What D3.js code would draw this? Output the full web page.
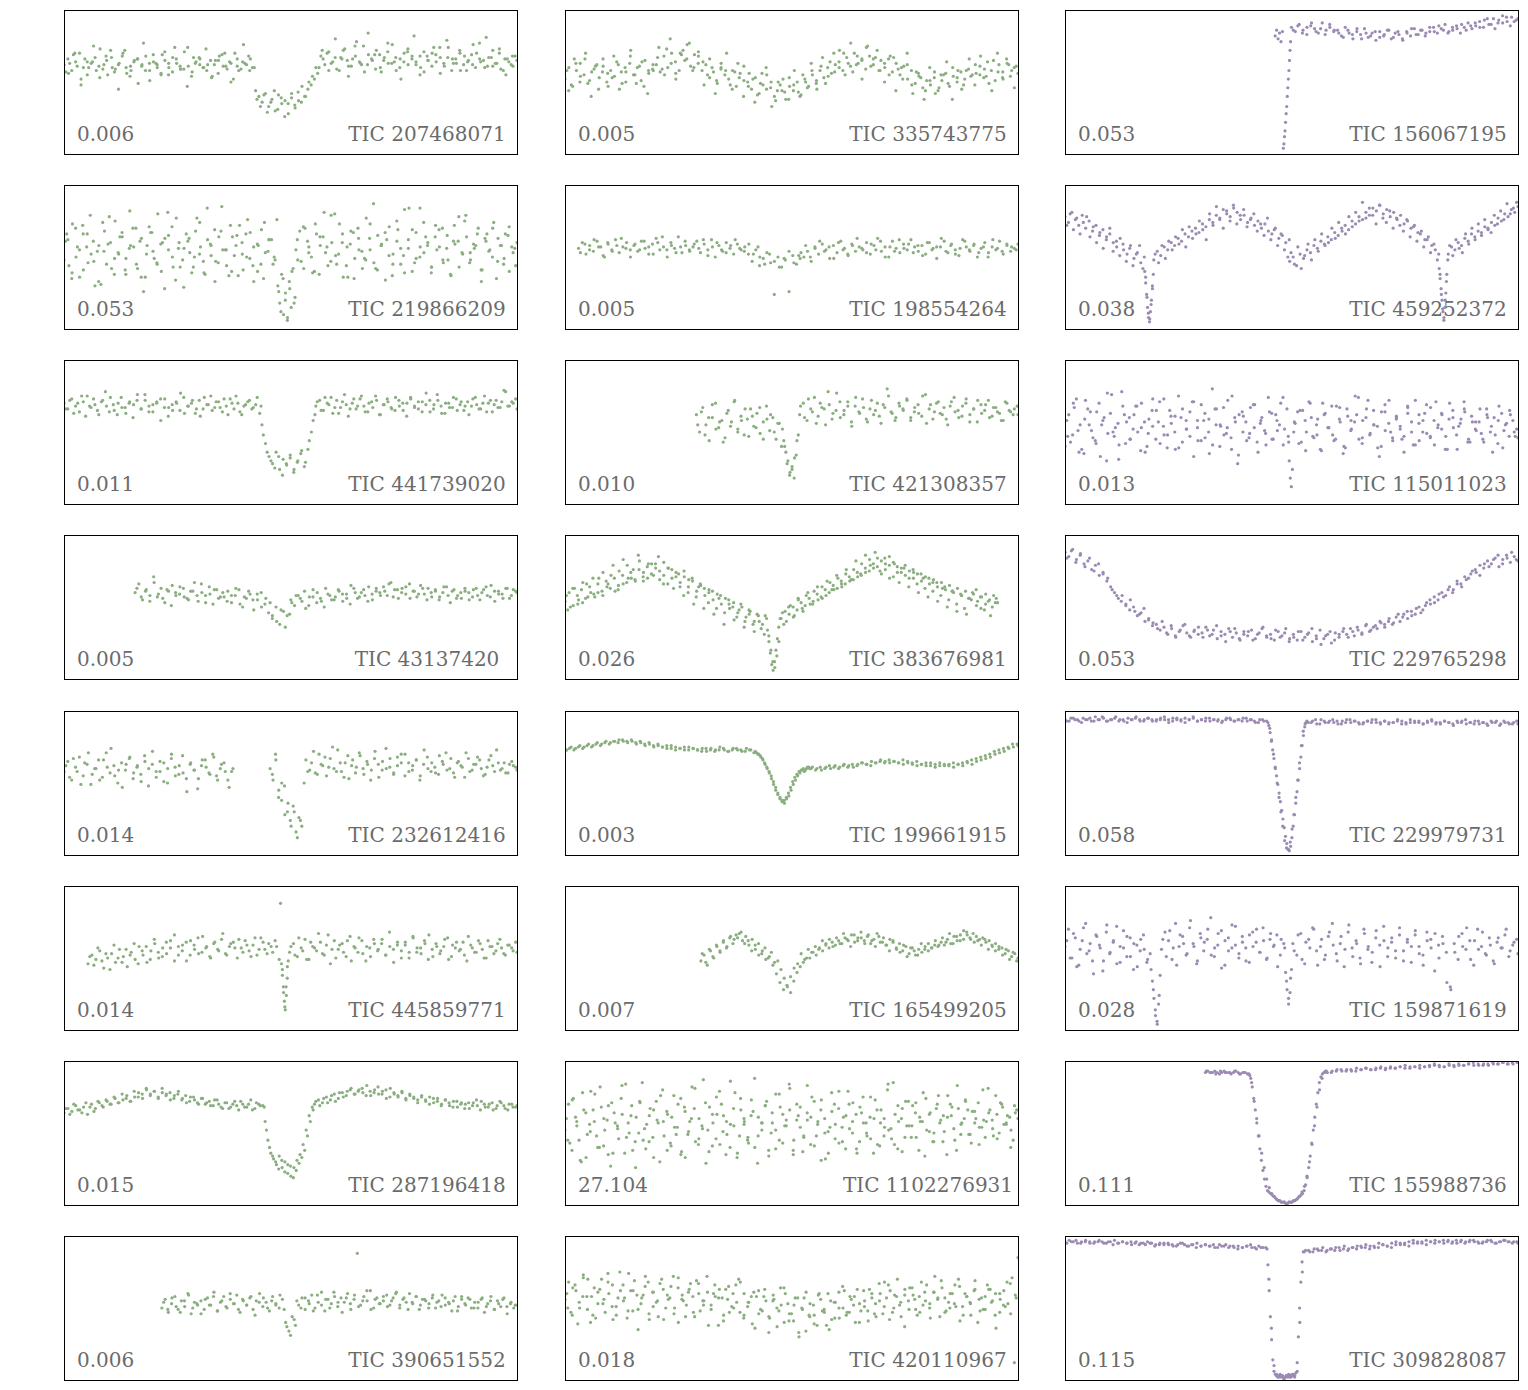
<!DOCTYPE html>
<html>
<head>
<meta charset="utf-8">
<script src="https://cdn.jsdelivr.net/npm/d3@7"></script>
<style>
  html, body { margin: 0; padding: 0; background: #fff; }
  svg { display: block; }
</style>
</head>
<body>
<div id="chart"></div>
<script>
// panel labels, row by row (3 per row)
var ticIds = [
  "TIC 207468071", "TIC 335743775", "TIC 156067195",
  "TIC 219866209", "TIC 198554264", "TIC 459252372",
  "TIC 441739020", "TIC 421308357", "TIC 115011023",
  "TIC 43137420",  "TIC 383676981", "TIC 229765298",
  "TIC 232612416", "TIC 199661915", "TIC 229979731",
  "TIC 445859771", "TIC 165499205", "TIC 159871619",
  "TIC 287196418", "TIC 1102276931", "TIC 155988736",
  "TIC 390651552", "TIC 420110967", "TIC 309828087"
];
var depthLabels = [
  "0.006", "0.005", "0.053",
  "0.053", "0.005", "0.038",
  "0.011", "0.010", "0.013",
  "0.005", "0.026", "0.053",
  "0.014", "0.003", "0.058",
  "0.014", "0.007", "0.028",
  "0.015", "27.104", "0.111",
  "0.006", "0.018", "0.115"
];
// 0 = green group, 1 = purple group
var panelGroup = [
  0, 0, 1,
  0, 0, 1,
  0, 0, 1,
  0, 0, 1,
  0, 0, 1,
  0, 0, 1,
  0, 0, 1,
  0, 0, 1
];

// light curves: segments of [tStart, tEnd, normalised flux samples (0..100)]
var lc207468071 = [
  [0, 42, [62,66,58,64,70,60,55,63,67,61,59,65,72,57,62,68,60,54,64,66,61,58,63,69,62,56,65,60,67,63,59,71,61,57,64,66,60,62,53,65,68,61,59,63,70,58,64,62,66,60]],
  [42.3, 56, [44,40,36,42,33,38,30,41,35,37,28,39,34,43,36,40,45,48,52,56]],
  [56.3, 100, [60,66,70,63,67,58,72,65,61,68,64,75,62,66,59,69,65,71,63,67,60,64,73,66,62,68,57,65,70,64,67,61,74,66,63,58,68,65,62,70,64,60,67,72,63,59,66,64,61,65]],
  [0.4, 41.6, [57,63,69,61,52,66,60,64,58,73,62,55,67,59,63,70,56,61,65,49,62,68,58,64,60,55,71,63,57,66,61,59,74,54,63,67,60,58,65,62,56,69,61,64,52,66,59,63,68,60]],
  [42.6, 55.6, [38,33,41,29,36,44,31,39,26,35,42,32,37,47,40,50,54,60]],
  [56.7, 99.6, [68,62,71,64,59,67,73,61,66,78,63,57,69,65,72,60,67,63,76,58,66,70,62,68,64,55,71,65,61,69,74,63,67,58,66,72,62,64,69,60,77,65,61,67,63,70,58,66,62,68]],
  [1, 41, [56,70,48,64,75,53,68,60,45,72,58,66,77,51,63,69,55,74,59,47,67,62,73,54,65,70,50,61,76,58]],
  [57, 99, [72,58,80,66,54,75,62,84,69,57,77,64,52,71,82,60,68,74,56,79,63,70,58,76,66,81,61,73,55,68]]
];
var lc335743775 = [
  [0, 100, [52,60,47,58,63,55,49,57,61,53,66,50,
            58,54,62,49,57,63,55,60,51,65,56,59,
            62,57,68,60,70,64,58,72,66,61,69,63,
            58,62,53,57,49,60,55,52,58,47,56,51,
            50,45,53,42,48,55,46,40,50,44,38,47,
            44,50,41,52,47,55,49,58,53,60,56,62,
            64,58,67,61,70,63,66,59,68,62,72,65,
            60,66,57,63,55,61,52,58,49,54,46,51,
            48,53,44,51,56,47,54,50,57,52,59,55,
            56,61,53,64,58,51,62,57,66,54,60,56]],
  [0.4, 99.6, [58,48,63,54,66,51,59,45,61,56,
               53,64,57,50,68,55,61,47,58,62,
               67,59,73,63,56,70,65,77,60,68,
               64,55,60,51,63,58,48,57,53,61,
               47,52,41,56,45,50,37,48,43,53,
               48,43,55,46,58,51,61,49,64,57,
               60,70,63,57,68,65,74,61,67,58,
               63,55,67,59,52,62,48,57,53,44,
               51,57,46,55,49,60,53,45,58,54,
               62,55,59,49,65,57,53,63,58,61]],
  [0.8, 99.2, [44,66,50,70,40,62,57,47,
               68,45,60,72,49,64,42,58,
               74,55,80,52,69,76,58,71,
               48,66,42,59,70,45,63,40,
               56,36,49,60,33,44,52,38,
               58,40,50,63,45,67,54,70,
               72,55,77,62,52,75,66,58,
               50,68,44,60,70,42,56,38,
               60,42,55,64,38,58,48,66,
               48,68,54,44,70,52,62,46]]
];
var lc156067195 = [
  [46.4, 48.0, [82,86,80,84,78,85]],
  [48.2, 49.8, [4,7,12,16,22,28,33,40,46,52,58,65,72,78]],
  [50, 100, [88,85,90,86,83,89,87,84,91,86,88,85,
             86,82,88,84,80,85,83,87,81,84,79,85,
             82,86,80,84,83,79,85,82,87,83,86,84,
             85,88,84,87,90,85,86,89,84,88,91,87,
             89,92,88,94,90,87,93,91,95,89,92,94]],
  [50.4, 99.6, [86,89,84,88,91,85,87,83,90,86,84,81,86,83,87,80,84,82,85,81,83,86,81,85,80,84,87,83,86,82,88,85,89,86,84,88,87,90,86,89,91,88,93,90,94,91,96,92,95,93]]
];
var lc219866209 = [
  [0, 47, [48,62,35,70,55,41,66,52,30,58,74,45,60,38,53,67,49,82,57,42,63,36,71,54,46,59,28,65,50,77,43,56,61,39,68,52,47,84,58,33,64,55,44,72,51,37,60,66,49,57,40,69,53,62,45,76]],
  [47.2, 51, [30,18,38,10,25,6,33,15,42,22]],
  [51.2, 100, [55,68,42,61,50,73,38,64,57,47,80,52,66,44,59,35,70,54,48,63,87,41,58,67,51,45,75,56,39,62,69,49,84,53,60,43,72,57,46,65,37,59,78,52,64,48,56,70,41,61,55,74,47,58,66,40,53,60]],
  [0.3, 46.6, [61,44,73,50,36,66,57,79,47,54,31,68,59,42,75,52,64,38,56,70,45,61,26,58,67,49,80,40,63,55,71,34,60,48,66,53,43,77,57,39,62,51,69,46,85,55,37,64,58,72,41,50,67,33,59,45,74,54,62,48]],
  [47.4, 50.8, [26,12,35,20,8,28,40,18]],
  [51.5, 99.7, [62,47,70,53,39,66,58,81,44,60,51,73,36,57,68,49,63,42,77,55,46,65,59,34,71,52,61,45,83,56,40,67,50,74,58,43,64,69,48,56,38,72,61,53,79,46,59,66,41,63,54,70,35,58,49,65,57,44]],
  [0.6, 46.4, [66,39,57,72,46,61,33,54,78,49,64,41,58,70,36,52,67,45,60,81,43,56,29,63,50,74,38,59,47,68,55,40,65,52,76,44,58,35,62,50]],
  [51.6, 99.5, [48,71,57,40,64,53,79,45,60,36,67,55,49,73,42,58,62,37,69,51,84,46,57,64,39,55,70,48,61,43,75,53,58,33,66,50,63,45,71,56]]
];
var lc198554264 = [
  [3, 100, [56,60,52,58,54,61,57,50,59,55,62,53,57,60,55,
            58,54,61,56,52,59,63,55,57,50,60,56,64,53,58,55,
            57,61,53,59,55,62,50,58,54,60,56,52,59,55,57,
            52,47,55,44,49,53,46,24,50,43,48,26,51,45,49,
            50,54,47,57,52,59,55,49,58,53,61,56,51,59,54,57,
            55,60,52,58,63,54,57,50,61,56,53,59,55,62,57,
            54,58,52,60,56,49,57,61,53,59,55,51,62,57,54,58,50,56,60,53,57,55,61,52,58,54,56,59]],
  [3.4, 42.6, [53,59,55,62,57,51,60,54,58,63,56,50,59,55,61,57,52,60,64,55,58,53,57,61,54,59,56,62,51,57,60,55,53,58,62,56,54,59,52,57]],
  [43, 51.6, [50,45,52,47,43,49,54,46,51]],
  [52.1, 99.6, [53,58,50,56,61,54,57,49,60,55,52,58,63,56,53,59,55,61,50,57,54,62,56,59,53,58,51,60,55,57,63,54,58,52,56,61,55,59,53,57,50,62,56,54,59,57,55]]
];
var lc459252372 = [
  [0, 17.5, [78,74,81,76,72,79,70,75,68,72,65,69,62,66,60,57,63,55,52,58,49,53,46,50]],
  [17.6, 19.5, [40,32,24,15,8,5,12,20,30,38]],
  [19.6, 49.5, [48,54,51,57,55,60,58,63,61,66,64,68,70,67,73,71,76,74,79,77,83,80,78,84,81,76,79,74,77,72,75,70,73,68,66,70,63,65,60,62]],
  [49.6, 82.5, [47,50,44,52,49,55,53,58,56,61,59,64,62,67,65,70,72,69,75,73,78,76,81,79,84,82,86,80,83,78,81,76,79,73,75,70,72,67,68,62,64,58,55,52]],
  [82.6, 84.5, [42,35,28,20,12,8,15,25,38,48]],
  [84.6, 100, [52,57,55,60,58,63,61,66,64,68,67,71,69,74,72,77,75,80,78,83,81,85]],
  [0.4, 17.2, [72,80,69,77,66,74,78,64,71,60,67,56,64,70,54,61,51,59,47,56,44,52,58,42]],
  [17.8, 19.3, [36,22,11,7,17,28]],
  [19.9, 49.2, [52,46,58,49,61,55,64,59,69,57,71,63,66,75,69,62,80,72,85,76,70,82,75,86,73,79,83,71,76,80,68,73,65,77,62,69,58,66,55,50]],
  [49.9, 82.2, [53,45,57,42,51,59,48,62,54,66,58,60,70,63,74,68,66,78,71,81,75,88,77,84,79,73,86,77,74,82,70,77,72,68,76,64,71,61,66,57,62,53,59,48]],
  [82.8, 84.2, [38,24,14,6,20,33]],
  [84.9, 99.7, [58,51,62,56,53,66,59,70,62,73,65,76,70,67,79,73,82,76,87,80,84,88]]
];
var lc441739020 = [
  [0, 43.5, [70,66,73,68,64,71,75,67,69,62,72,68,74,65,70,67,63,71,69,76,66,72,68,64,70,73,67,61,69,71,65,74,68,70,63,72,66,69,75,67,71,64,68,73,66,70,62,69,72,67,74,68]],
  [43.7, 55.4, [55,42,33,28,36,24,31,27,34,22,29,35,26,38,50,62]],
  [55.6, 100, [68,72,65,70,74,67,63,71,69,66,73,68,75,64,70,67,72,62,69,71,66,74,68,65,70,73,67,71,64,69,72,66,76,68,63,70,67,73,69,65,71,68,74,66,70,64,72,69,67,71,78,68,70,66]],
  [0.4, 43.2, [66,72,63,70,75,61,68,73,65,71,78,64,69,62,74,67,70,60,72,66,76,64,69,71,58,73,67,65,70,77,63,68,72,66,61,74,69,65,71,67,73,62,70,75,64,68,71,66,69,63]],
  [44, 55, [48,36,30,25,33,20,28,32,24,30,37,29,44,58]],
  [55.9, 99.7, [71,65,74,69,63,72,67,76,61,70,66,73,68,64,71,75,62,69,73,67,65,72,70,61,74,68,66,71,77,64,69,72,63,70,67,74,65,71,68,62,73,69,66,75,70,64,72,67,79,68,71,73]]
];
var lc421308357 = [
  [29, 48, [62,50,67,55,44,60,70,53,58,46,65,57,72,52,61,48,59,66,54,63,49,57,68,51,60,45,56,52]],
  [48.3, 51.5, [44,36,30,22,26,18,34,48]],
  [51.8, 100, [62,70,58,66,74,61,67,55,69,63,77,60,65,71,57,68,64,73,59,66,62,70,56,67,75,63,60,68,65,72,58,64,69,61,76,66,59,70,63,67,55,71,64,60,68,73,62,66,57,69,65,72,61,67,63,58,70,64,66,62]],
  [29.3, 47.8, [55,64,48,60,69,52,57,43,63,54,71,50,58,66,47,61,53,67,45,59,62,50,56,40]],
  [48.5, 51.2, [40,28,20,24,32,44]],
  [52, 99.8, [68,60,73,64,56,70,66,78,59,65,71,62,68,54,74,63,67,57,72,65,61,69,80,64,58,70,66,73,60,67,63,75,56,69,64,71,62,59,68,74,65,61,70,57,66,72,63,69,60,67,64,58,71,65,62,68]]
];
var lc115011023 = [
  [0, 49.3, [40,62,48,73,55,35,66,51,44,70,58,30,63,47,56,78,42,60,52,68,37,57,49,65,45,71,54,39,61,50,75,43,58,64,33,53,69,46,59,41,66,55,48,72,38,57,62,50,44,67,53,36,60,49,64,45,58,70,52,47]],
  [49.5, 50.2, [30,18,12,24]],
  [50.5, 100, [50,64,43,58,71,47,55,38,62,53,68,45,59,35,66,51,57,74,42,60,48,65,54,40,69,56,46,61,52,36,63,50,72,44,58,49,67,41,55,62,47,70,53,38,59,64,45,57,51,66,43,60,54,48,68,39,56,62,50,46]],
  [0.4, 49, [58,43,67,51,38,72,55,46,64,33,60,49,76,53,41,68,57,45,62,50,70,36,59,54,65,42,73,48,56,61,39,66,52,47,71,58,44,63,50,80,55,40,67,53,46,60,34,64,57,49,69,43,58,51,74,45,62,55,41,66]],
  [50.8, 99.7, [56,42,65,50,70,46,59,37,63,53,48,68,57,40,61,52,75,45,58,66,49,55,39,64,51,72,44,60,54,47,67,57,41,62,50,69,46,58,53,63,38,59,65,48,56,71,43,61,52,57,45,66,50,60,42,63,55,47,58,52]],
  [0.6, 99.4, [47,70,36,59,64,42,55,77,50,31,62,45,68,53,40,73,57,48,65,38,60,52,71,44,58,35,66,54,49,75,28,61,46,69,56,41,63,51,74,43,57,65,37,60,48,70,53,44,67,39,58,62,46,72,55,33,64,50,59,45,68,41,56,63,47,71,52,38,60,54,66,43,57,49,62,36,58,51,65,47]]
];
var lc43137420 = [
  [15.7, 100, [60,66,55,62,58,71,57,63,53,61,65,58,
               59,63,56,61,67,54,60,58,64,52,62,57,
               57,61,53,58,62,50,56,59,48,55,60,52,
               46,42,50,38,47,44,
               55,51,58,54,49,57,62,53,56,50,59,55,
               57,61,54,59,52,63,56,60,58,64,55,61,
               60,64,58,67,62,56,63,59,66,61,57,65,
               59,63,57,61,55,60,64,53,62,58,56,61,
               60,57,63,55,62,58,65,54,61,59,63,56,62,60]],
  [16.1, 45.5, [63,57,61,54,67,59,56,62,51,60,64,57,55,61,58,66,53,59,62,56,60,54,58,63,52,57,61,55,59,50,56,53]],
  [46, 49.8, [44,40,48,36,45]],
  [50.3, 99.7, [53,58,56,61,51,57,60,54,63,58,55,62,59,56,65,60,57,62,54,59,63,58,61,66,57,62,60,64,56,61,59,63,55,60,62,57,64,58,61,56,60,63,55,62,58,60,64,57,61,59,56,63,58,61]]
];
var lc383676981 = [
  [0, 44.5, [54,60,51,58,62,56,64,59,66,61,68,63,70,65,72,67,74,69,76,71,78,73,80,75,72,77,70,74,67,71,64,68,61,65,58,62,55,59,52,56,49,53,46,50,43,47,40,44,38,42]],
  [44.7, 47.5, [34,26,18,10,6,12,20,28,36,42]],
  [47.7, 95.5, [42,47,45,50,48,53,51,56,54,59,57,62,60,65,63,68,66,71,69,74,72,77,75,80,78,82,76,79,81,74,77,72,75,70,73,68,71,66,69,64,67,62,65,60,63,58,61,56,59,54,57,52,55,58,53]],
  [0.3, 44.2, [58,50,63,55,53,66,60,57,70,58,64,72,61,75,66,79,70,68,82,74,70,80,77,69,81,66,76,71,64,75,60,70,57,66,63,53,61,49,58,46,55,50,43,52,40,48,38,45,35,44]],
  [45, 47.2, [30,20,12,8,16,26]],
  [48, 95.2, [46,40,51,44,55,49,58,52,61,55,64,58,67,62,70,64,73,68,76,71,80,74,83,77,84,73,80,85,71,78,74,79,70,76,66,73,63,70,61,67,58,64,55,61,52,59,49,56,60,51,57,48,54,50,56]],
  [0.6, 44, [48,63,52,67,57,70,60,74,66,79,62,83,70,76,86,68,80,72,85,66,77,63,73,58,69,52,64,49,60,45,56,38,52,41,48,36,45,33,40,31]],
  [48.3, 95, [38,50,43,56,47,60,52,64,56,68,62,72,66,76,69,82,73,86,79,88,75,84,70,80,67,77,64,74,60,70,57,67,54,63,50,61,47,58,45,55,62,49,59,44,53]]
];
var lc229765298 = [
  [0, 100, [88,85,90,83,86,80,82,76,79,72,74,68,
            64,60,56,58,52,48,50,44,46,40,42,37,
            38,34,36,31,35,30,33,37,32,29,34,31,
            32,36,30,34,28,33,31,35,29,32,27,33,
            30,34,28,32,36,29,31,27,33,30,35,28,
            31,27,33,29,32,26,30,34,28,31,25,32,
            29,33,31,35,30,34,32,37,33,36,35,39,
            36,40,38,43,40,45,42,47,45,50,48,53,
            52,57,55,60,58,64,62,68,66,71,70,75,
            74,79,77,82,80,84,78,83,86,81,85,82]],
  [0.4, 99.6, [84,89,81,87,78,84,75,80,73,70,
               62,58,54,51,55,47,45,49,41,39,
               35,40,32,37,29,34,38,30,33,36,
               29,34,31,37,30,26,33,35,28,31,
               33,27,31,35,30,28,34,29,32,26,
               29,33,27,31,35,28,24,30,33,27,
               31,35,29,33,36,31,38,34,37,40,
               38,42,39,45,43,47,44,49,46,51,
               55,53,59,57,62,60,66,64,69,73,
               76,72,80,78,83,86,80,84,88,83]]
];
var lc232612416 = [
  [0, 37.3, [58,65,52,61,68,55,63,49,60,66,54,71,57,62,50,64,59,67,53,61,56,69,48,63,58,65,51,60,70,55,62,57,44,64,59,53,66,61,56,68,52,63,58,47,60]],
  [45.5, 52.5, [60,52,66,45,38,48,30,24,34,16,26,20]],
  [53, 100, [50,58,64,57,70,62,55,67,60,73,58,64,53,66,61,69,56,63,59,72,54,65,60,67,57,62,70,55,64,59,66,52,63,68,58,61,56,65,71,60,57,64,62,54,67,59,63,66,55,61,69,58,64,60,57,63,62,59]],
  [0.4, 37, [62,54,67,58,49,64,71,56,60,52,66,61,74,55,59,47,63,68,57,62,51,65,60,72,54,58,64,50,67,61,56,69,53,63,59,46,62,66,57,70,55,60,64,52,58]],
  [46, 52.2, [56,70,40,50,28,36,20,30,12,24]],
  [53.4, 99.7, [66,59,72,56,63,68,61,75,58,64,54,69,62,57,71,60,65,52,67,63,59,74,61,56,68,64,70,58,62,66,55,73,60,64,57,69,63,59,67,54,65,61,71,58,63,68,60,56,66,62,73,59,64,57,65,61]]
];
var lc199661915 = [
  [0, 42, [72,74,73,75,74,76,75,77,76,78,77,79,78,80,79,80,78,79,77,78,76,77,75,76,74,75,74,73,75,74,73,74,72,74,73,75,73,72,74,73,72,74,73,72]],
  [42.3, 54, [71,70,68,66,63,60,57,53,49,45,42,39,37,38,40,43,47,51,54,56,58,59,60,59,61,60]],
  [54.3, 100, [60,59,61,60,62,61,60,62,61,63,62,64,63,62,64,65,64,66,65,64,66,65,64,65,63,64,62,63,64,62,63,61,63,62,64,63,65,66,67,68,70,71,72,74,75,76]],
  [0.4, 41.7, [73,75,74,76,75,77,76,78,77,79,78,79,80,79,78,79,77,78,76,77,75,76,75,74,76,73,74,75,73,74,73,72,74,73,72,73,74,72,73,74,73,72,73,71]],
  [42.6, 53.8, [70,69,67,64,61,58,55,51,47,43,40,38,36,39,41,45,49,52,55,57,59,58,60,61]],
  [54.6, 99.8, [61,60,59,61,60,62,61,63,62,61,63,64,63,65,64,66,65,64,65,64,63,64,63,62,63,62,64,61,62,63,62,64,63,64,65,66,67,68,69,70,72,73,74,75,77,77]]
];
var lc229979731 = [
  [0, 44.8, [94,93,95,94,92,94,95,93,94,96,93,94,95,93,94,92,94,95,94,93,95,94,93,94,96,94,93,95,94,92,94,95,93,94,95,93,94,94,93,95,94,93,94,95,93,94,92,94,93,92]],
  [45, 53.2, [90,85,79,73,67,61,55,49,43,37,31,25,19,13,8,4,3,6,12,20,28,36,44,52,60,68,76,83,89,92]],
  [53.4, 100, [93,92,94,91,93,92,94,93,91,92,94,93,92,91,93,92,94,92,93,91,92,93,91,92,94,92,93,91,92,93,92,91,93,92,90,92,93,91,92,93,91,92,90,92,93,91,92,91,92,91]],
  [0.4, 44.5, [93,95,94,93,95,94,93,96,94,95,93,94,96,94,93,95,94,96,93,94,95,93,94,95,94,92,95,94,93,95,94,96,93,94,93,95,94,93,92,94,95,93,94,93,95,94,93,92,94,93]],
  [45.2, 53, [88,80,70,60,50,40,30,20,10,5,4,9,18,28,40,52,64,76,86,91]],
  [53.7, 99.7, [92,93,91,94,92,93,92,91,93,94,92,93,91,92,93,94,92,91,93,92,92,94,93,91,92,93,92,91,93,94,91,92,93,92,91,93,92,94,92,91,93,92,91,93,92,90,93,92,91,93]]
];
var lc445859771 = [
  [5.3, 47.8, [46,52,49,55,43,50,53,47,56,51,44,54,49,58,52,47,55,60,50,57,53,62,48,58,55,61,52,59,64,54,57,51,60,56,63,53,58,61,50,57,62,55,59,52,64,56,60,54,58,88]],
  [48, 49.5, [46,38,30,20,14,24,36,48]],
  [49.8, 100, [54,60,51,57,63,49,58,55,61,52,66,56,50,59,54,62,48,57,64,53,58,51,60,56,63,52,58,47,61,55,59,50,65,54,57,62,49,56,60,53,58,64,51,57,55,61,48,59,54,62,56,50,58,53,60,57,52,59,55,54]],
  [5.7, 47.5, [51,45,57,48,53,42,59,50,47,56,52,60,46,55,58,49,63,54,51,61,57,66,52,59,48,62,56,53,65,58,50,61,55,67,52,60,57,63,54,59,51,64,56,61,53,58,62,49]],
  [48.2, 49.3, [42,26,16,30,44]],
  [50.1, 99.7, [58,52,64,55,49,61,57,67,53,59,46,62,56,60,51,65,58,54,62,48,57,63,55,60,52,68,56,59,50,61,54,64,57,53,60,66,51,58,55,63,49,59,61,56,52,65,57,54,60,50,62,58,55,63,53,59,57,61]]
];
var lc165499205 = [
  [30, 100, [48,52,45,55,50,58,54,61,57,64,60,66,
             67,62,65,59,63,56,60,53,57,50,54,47,
             48,42,36,30,26,34,40,44,47,50,
             50,54,52,57,55,59,57,61,59,62,60,64,
             62,66,61,64,68,62,65,60,63,67,61,64,59,63,
             61,57,60,55,58,53,57,52,56,54,58,55,57,59,
             58,61,59,63,60,65,62,66,63,68,64,67,65,63,
             64,61,62,58,60,56,57,53,55,51,53,50]],
  [30.3, 99.7, [53,47,56,51,59,55,62,58,65,63,
                64,68,60,62,55,59,52,55,49,51,
                45,39,33,28,31,37,43,46,
                53,49,56,54,58,56,62,60,63,58,
                64,60,67,63,58,66,62,64,60,66,62,58,65,61,
                59,55,62,56,54,59,51,57,55,52,60,56,
                60,57,62,59,64,61,67,60,65,62,69,66,63,61,
                62,59,63,56,59,55,58,52,56,49,54,48]]
];
var lc159871619 = [
  [0, 19, [58,70,50,64,45,62,74,55,48,66,59,41,68,53,61,72,47,57,65,51,60,44,63,56,49,42]],
  [19.3, 21, [34,22,10,6,18,38]],
  [21.3, 48.5, [56,68,62,49,74,58,65,52,71,60,46,67,55,63,78,51,59,69,45,64,57,72,53,61,48,66,58,70,54,62,50,67,59,44,63,57]],
  [48.7, 50, [40,28,18,26,42]],
  [50.3, 100, [60,52,67,46,63,71,55,58,49,65,74,53,60,44,68,57,62,50,70,56,47,64,59,72,51,61,55,66,48,63,58,69,53,45,62,57,67,50,60,33,28,54,65,58,71,49,62,56,68,52,59,46,64,57,70,55,61,53]],
  [0.4, 18.8, [62,50,67,44,56,71,53,60,39,65,57,48,73,54,62,46,58,69,51,64,42,59,55,66,47,53]],
  [19.5, 20.8, [28,14,4,24]],
  [21.6, 48.3, [63,51,69,57,45,66,60,53,76,58,48,64,61,70,52,57,67,43,62,55,73,59,50,65,57,47,68,61,54,71,49,63,58,66,52,60]],
  [48.9, 49.8, [34,22,36]],
  [50.6, 99.7, [55,66,49,61,57,70,45,63,52,68,59,48,65,56,73,51,60,46,67,58,54,69,44,62,57,64,50,71,55,61,47,66,58,52,68,63,41,59,65,54,30,60,49,67,56,62,45,70,58,53,64,48,61,57,66,51,59,63]]
];
var lc287196418 = [
  [0, 44.2, [64,67,65,69,66,68,63,70,67,71,68,72,70,74,71,73,76,72,75,78,74,80,77,79,75,81,76,78,74,77,73,76,72,75,71,74,70,72,69,73,68,71,67,70,69,72,68,70,66,71,69,68]],
  [44.4, 55, [58,45,36,32,28,34,26,30,22,27,19,24,29,33,38,48,58,66]],
  [55.3, 100, [70,73,71,75,73,77,74,78,76,80,77,79,81,76,79,78,82,77,80,75,78,76,79,74,77,75,73,76,72,75,71,74,70,73,69,72,68,71,70,67,71,69,72,68,70,66,69,71,67,70,68,69]],
  [0.4, 43.9, [67,63,70,66,64,71,68,65,72,69,73,70,75,71,77,74,72,79,75,77,81,76,79,74,78,77,73,76,79,74,71,75,73,70,74,71,69,73,70,67,71,68,72,66,70,68,73,67,70,69]],
  [44.7, 54.8, [52,40,34,30,25,31,23,28,20,26,31,35,42,52,62,68]],
  [55.6, 99.7, [72,69,74,71,76,72,78,75,79,81,77,80,78,83,76,80,77,79,74,81,77,75,78,73,76,74,71,75,73,70,74,72,69,73,71,68,72,70,67,71,69,73,66,70,68,71,67,72,69,66,70,68]]
];
var lc1102276931 = [
  [0, 100, [52,70,38,61,45,78,33,56,66,48,82,41,59,27,64,53,74,36,57,69,44,50,85,39,62,47,72,30,58,65,43,76,54,35,68,49,60,81,42,55,71,37,63,46,79,51,58,40,67,33,74,56,45,62,88,48,57,69,38,64,52,77,43,59,66,35,70,54,47,83,61,41,58,73,50,36,65,56,79,44,62,53,71,39,68,57,48,75,60,42,66,54,84,46,63,58,37,72,55,69,47,61,78,52,64,44,70,59,51,76,62,45,67,57,73,49,65,60,54,80,58,66,48,63,71,56,62,52,69,60]],
  [0.3, 99.7, [60,43,74,55,31,66,49,79,58,40,68,52,35,71,57,46,63,84,50,38,61,72,45,56,67,33,59,76,48,63,41,54,70,37,65,51,82,44,60,53,29,68,57,75,42,62,49,86,55,36,66,58,47,73,40,61,52,69,34,57,77,45,63,55,81,38,59,68,48,64,42,72,56,31,60,51,78,46,67,54,39,70,58,63,44,75,50,61,36,66,57,48,80,53,42,69,60,47,72,55,64,38,58,74,51,44,67,57,62,35,70,53,83,49,60,66,43,57,71,54,47,64,59,76,50,68,56,61,45,66]],
  [0.6, 99.4, [45,73,58,30,64,51,77,40,60,69,36,55,83,47,62,26,71,53,44,66,57,80,38,61,49,74,33,58,67,46,87,52,41,63,70,35,56,78,48,60,43,65,29,57,72,50,39,68,55,84,45,62,37,59,75,48,66,32,54,70,43,61,79,50,36,64,57,46,73,41,60,52,85,39,67,55,47,71,58,34,63,50,76,44,61,68,38,56,72,49,65,42,59,81,53,46,70,57,40,64]]
];
var lc155988736 = [
  [31, 40.8, [92,93,92,92,93,92,91,92,93,92,92,91,92,93,92,91,92,92,91,90]],
  [41, 57.5, [88,82,74,66,57,48,39,31,24,18,13,10,
              9,8,7,6,5,4,3,3,2,2,2,1,1,2,2,2,3,3,4,5,6,7,8,10,
              14,19,26,34,43,52,61,70,78,85,89,91,92,93]],
  [57.7, 100, [93,92,93,94,93,94,93,94,95,94,94,95,94,95,95,96,95,95,96,95,96,96,97,96,96,97,96,97,97,98,97,97,98,97,98,98,99,98,98,99]],
  [31.2, 40.6, [93,92,91,93,92,92,93,91,92,91]],
  [41.2, 57.3, [85,72,60,48,36,26,18,12,8,6,4,3,2,2,1,2,2,3,4,6,9,13,20,30,42,55,68,80,88,92]],
  [57.9, 99.8, [92,93,94,93,94,93,95,94,95,94,95,96,95,96,95,96,97,96,96,97,96,97,98,97,96,98,97,98,97,98,99,98,97,98,99,98,99,98,99,99]]
];
var lc390651552 = [
  [21.6, 100, [50,56,47,53,58,49,55,51,60,46,54,52,
               55,49,57,52,61,48,54,58,50,56,53,59,47,55,
               52,57,49,55,60,51,54,48,58,53,50,56,
               40,34,44,38,
               52,57,49,55,59,50,54,61,48,56,53,58,
               51,57,54,60,49,56,88,52,58,55,62,50,57,53,
               55,59,52,57,61,50,56,54,60,53,58,49,56,55,
               53,57,50,55,59,52,54,48,58,51,56,53,57,50,
               54,50,56,47,53,58,49,55,51,57,46,53,50,52]],
  [22, 48.6, [54,49,57,51,47,55,59,50,53,46,56,52,58,48,55,51,60,53,49,56,52,58,45,54,57,50,55,52,59,49]],
  [49.2, 50.8, [37,31,42]],
  [51.4, 99.6, [55,50,57,53,48,59,52,56,50,61,54,47,57,53,59,51,55,62,49,56,53,58,51,55,60,52,57,49,54,58,52,56,50,59,54,51,57,53,55,48,58,52,56,50,54,57,51,55,49,53,56,51,54,52]]
];
var lc420110967 = [
  [0, 100, [56,68,45,62,50,73,58,40,64,53,70,47,60,66,51,75,55,43,62,69,49,57,72,46,61,54,67,42,59,65,50,71,56,44,63,58,69,48,55,61,52,66,38,57,63,47,60,54,68,45,51,58,36,62,48,55,43,59,50,64,40,53,46,57,33,49,61,44,52,38,56,47,60,42,54,50,65,45,58,52,63,48,55,41,60,53,67,46,57,62,50,70,44,59,55,64,49,58,52,66,43,61,56,69,47,54,60,51,65,45,58,53,62,40,57,49,63,55,36,60,52,68,46,12,85]],
  [0.4, 99.6, [60,47,66,54,71,49,58,43,63,56,68,51,45,62,57,74,48,59,53,65,42,61,55,70,50,57,46,64,59,52,67,44,60,55,72,49,58,63,41,56,51,66,47,60,54,39,58,49,63,44,55,37,52,60,46,41,57,50,34,53,45,59,48,38,55,43,61,50,47,56,40,53,62,48,57,44,60,51,66,47,58,54,63,49,59,45,68,55,50,61,57,64,48,60,53,70,51,58,45,63,56,49,66,54,60,47,62,53,71,57]],
  [0.6, 99.4, [50,64,39,58,70,45,61,53,74,42,57,66,48,62,35,59,68,51,44,63,56,72,40,55,61,47,67,52,38,60,57,45,65,50,70,43,54,61,46,58,33,56,48,64,41,52,30,57,45,39,60,49,35,54,43,62,47,58,40,51,63,46,55,68,42,59,52,37,64,56,47,61,53,72,44,57,50,66,41,60,54,69,48,58,63,45,56,51,67,59]]
];
var lc309828087 = [
  [0, 44.6, [96,97,96,95,96,97,96,95,96,96,95,96,97,95,96,95,96,95,94,95,96,95,94,95,94,95,94,93,95,94,93,94,95,93,94,93,94,92,93,94,93,92,93,92,93,94,92,93,92,91]],
  [44.8, 52.6, [80,62,44,28,14,6,4,3,2,3,4,2,3,1,2,3,2,4,3,2,3,4,3,5,12,30,50,68,82,89]],
  [52.8, 100, [89,90,89,91,90,89,91,90,92,91,90,92,91,93,92,91,93,92,94,93,92,94,95,94,93,95,96,95,94,96,97,96,95,97,96,95,97,96,97,96,95,96,97,96,95,96,97,96,96,95]],
  [0.4, 44.3, [95,96,97,95,96,95,96,97,95,96,94,95,96,95,94,96,95,94,95,93,94,95,94,93,94,95,93,94,92,93,94,93,92,94,93,92,93,91,92,93,92,91,92,92]],
  [45, 52.4, [70,36,10,4,2,3,1,3,2,4,2,6,40,75]],
  [53.1, 99.7, [90,89,91,90,92,90,91,92,90,93,91,92,93,92,94,93,92,95,94,93,95,96,94,95,96,97,95,96,97,96,95,96,97,96,95,97,96,95,96,97,96,95,96,97,95,96,97,96,95,96]]
];

var curves = [
  lc207468071, lc335743775, lc156067195,
  lc219866209, lc198554264, lc459252372,
  lc441739020, lc421308357, lc115011023,
  lc43137420,  lc383676981, lc229765298,
  lc232612416, lc199661915, lc229979731,
  lc445859771, lc165499205, lc159871619,
  lc287196418, lc1102276931, lc155988736,
  lc390651552, lc420110967, lc309828087
];

// layout
var W = 1528, H = 1390;
var colLeft = [64, 565, 1065];
var panelW = 453, panelH = 144;
var rowTop0 = 10, rowStep = 175.14;
var groupColor = ["#8aae80", "#9b8bb3"];

var svg = d3.select("#chart").append("svg")
  .attr("width", W)
  .attr("height", H);

function toPoints(segments) {
  var pts = [];
  segments.forEach(function (seg) {
    var t0 = seg[0], t1 = seg[1], ys = seg[2];
    var n = ys.length;
    ys.forEach(function (v, j) {
      var t = n > 1 ? t0 + (t1 - t0) * j / (n - 1) : t0;
      pts.push({ t: t, f: v });
    });
  });
  return pts;
}

curves.forEach(function (segments, i) {
  var col = i % 3, row = Math.floor(i / 3);
  var left = colLeft[col];
  var top = Math.round(rowTop0 + row * rowStep);

  var x = d3.scaleLinear().domain([0, 100]).range([left, left + panelW]);
  var y = d3.scaleLinear().domain([0, 100]).range([top + panelH, top]);

  var g = svg.append("g").attr("class", "panel");

  svg.append("clipPath").attr("id", "clip" + i)
    .append("rect")
    .attr("x", left).attr("y", top)
    .attr("width", panelW).attr("height", panelH);

  // labels first, points go over them
  g.append("text")
    .attr("x", left + 13)
    .attr("y", top + 131)
    .style("font-family", "'DejaVu Serif', serif")
    .style("font-size", "20px")
    .style("fill", "#6b6b6b")
    .text(depthLabels[i]);

  g.append("text")
    .attr("x", left + 363)
    .attr("y", top + 131)
    .attr("text-anchor", "middle")
    .style("font-family", "'DejaVu Serif', serif")
    .style("font-size", "20px")
    .style("fill", "#6b6b6b")
    .text(ticIds[i]);

  g.append("g")
    .attr("clip-path", "url(#clip" + i + ")")
    .selectAll("circle")
    .data(toPoints(segments))
    .enter().append("circle")
    .attr("cx", function (d) { return x(d.t); })
    .attr("cy", function (d) { return y(d.f); })
    .attr("r", 1.6)
    .style("fill", groupColor[panelGroup[i]]);

  g.append("rect")
    .attr("x", left + 0.5)
    .attr("y", top + 0.5)
    .attr("width", panelW)
    .attr("height", panelH)
    .style("fill", "none")
    .style("stroke", "#000")
    .style("stroke-width", 1);
});
</script>
</body>
</html>
